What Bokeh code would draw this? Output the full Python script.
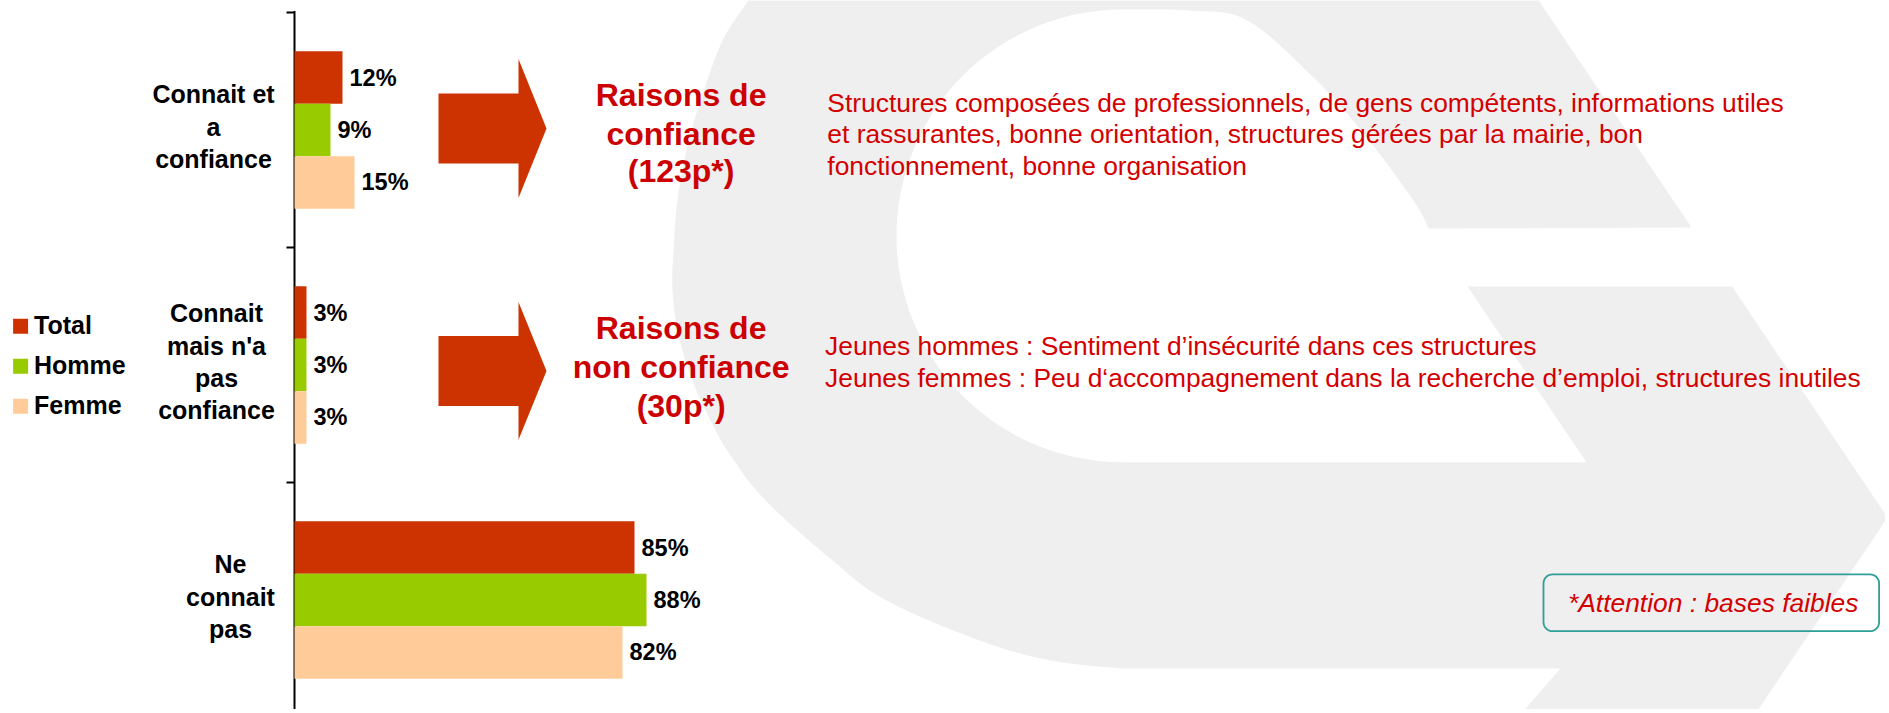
import numpy as np
from bokeh.plotting import figure
from bokeh.models import Range1d, ColumnDataSource
from bokeh.core.properties import value
from bokeh.embed import file_html
from bokeh.resources import INLINE

# ---------------- data ----------------
categories = ["Connait et\na\nconfiance",
              "Connait\nmais n'a\npas\nconfiance",
              "Ne\nconnait\npas"]
series = ["Total", "Homme", "Femme"]
total = [12, 3, 85]
homme = [9, 3, 88]
femme = [15, 3, 82]
colors = ["#cc3300", "#99cc00", "#ffcc99"]

reason_titles = ["Raisons de\nconfiance\n(123p*)",
                 "Raisons de\nnon confiance\n(30p*)"]
reason_texts = [
    "Structures composées de professionnels, de gens compétents, informations utiles\n"
    "et rassurantes, bonne orientation, structures gérées par la mairie, bon\n"
    "fonctionnement, bonne organisation",
    "Jeunes hommes : Sentiment d\u2019insécurité dans ces structures\n"
    "Jeunes femmes : Peu d\u2018accompagnement dans la recherche d\u2019emploi, structures inutiles",
]
note = "*Attention : bases faibles"

# ---------------- layout ----------------
FONT = "Liberation Sans"
W, H = 1885, 709
OFF = 0            # page offset of the canvas
AX_X = 294         # page x of value 0
PX = 4.0           # pixels per percentage point
TOP_Y = 12         # page y of the top of the first category
CAT_PX = 235       # pixels per category band
RED = "#cc0000"
MID = 0.35         # middle of the text above the baseline, in em


def X(px):
    return (px - AX_X) / PX


def Y(py):
    return (py - TOP_Y) / CAT_PX


def smooth(pts, n=10):
    """Catmull-Rom smoothing of a decorative outline."""
    P = np.array(pts, float)
    P = np.vstack([P[0], P, P[-1]])
    out = []
    for i in range(1, len(P) - 2):
        p0, p1, p2, p3 = P[i - 1], P[i], P[i + 1], P[i + 2]
        for t in np.linspace(0, 1, n, endpoint=False):
            out.append(0.5 * (2 * p1 + (-p0 + p2) * t
                              + (2 * p0 - 5 * p1 + 4 * p2 - p3) * t * t
                              + (-p0 + 3 * p1 - 3 * p2 + p3) * t ** 3))
    out.append(P[-2])
    return [tuple(q) for q in out]


p = figure(width=W, height=H,
           x_range=Range1d(X(OFF), X(OFF + W)),
           y_range=Range1d(Y(OFF + H), Y(OFF)),
           output_backend="svg", toolbar_location=None, tools="",
           x_axis_location=None, y_axis_location=None,
           min_border=0, outline_line_color=None,
           background_fill_color="white", border_fill_color="white")
p.grid.visible = False
p.xgrid.grid_line_color = None
p.ygrid.grid_line_color = None

# ---------------- background logo ----------------
outer_arc = smooth([(748, 0), (722, 40), (700, 100), (686, 150), (677, 200),
                    (673, 250), (672, 290), (678, 335), (692, 380), (710, 420),
                    (730, 455), (765, 500), (832, 560), (886, 600), (979, 640),
                    (1050, 660), (1122, 668)])
hole_top = smooth([(1428, 228), (1413, 200), (1363, 133), (1313, 77), (1247, 20),
                   (1190, 10), (1122, 9)])
hcx, hcy, hrx, hry = 1122, 235.35, 226, 226.35
tt = np.linspace(0, np.pi, 60)
hole_left = list(zip(hcx - hrx * np.sin(tt), hcy - hry * np.cos(tt)))
logo = ([(748, -30), (1518, -30), (1691, 227)] + hole_top + hole_left[1:] +
        [(1586, 461.7), (1467, 286), (1731.6, 286), (1887, 517), (1737, 740),
         (1497, 740), (1560, 668)] + outer_arc[::-1])
p.patch([X(a) for a, b in logo], [Y(b) for a, b in logo],
        fill_color="#efefef", line_color=None)

# ---------------- axis ----------------
n_cat = len(categories)
p.segment(x0=[0], y0=[Y(10.5)], x1=[0], y1=[Y(OFF + H + 10)],
          line_color="black", line_width=2)
ticks = list(range(n_cat + 1))
p.segment(x0=[-2] * len(ticks), y0=ticks, x1=[0] * len(ticks), y1=ticks,
          line_color="black", line_width=2)

# ---------------- bars + value labels ----------------
bar_h = 0.2234
for j, (name, vals, col) in enumerate(zip(series, [total, homme, femme], colors)):
    ys = [i + 0.5 + (j - 1) * bar_h for i in range(n_cat)]
    src = ColumnDataSource(dict(y=ys, right=vals,
                                label=[f"{v}%" for v in vals],
                                lx=[v + 7 / PX for v in vals]))
    p.hbar(y="y", left=0, right="right", height=bar_h, source=src,
           fill_color=col, line_color=None)
    p.text(x="lx", y="y", text="label", source=src,
           text_font=value(FONT), text_font_style="bold", text_font_size="23.5px",
           text_baseline="middle", text_align="left", text_color="black")

# ---------------- category labels ----------------
label_cx = [213, 216, 230]
lx, ly, lt = [], [], []
for i, cat in enumerate(categories):
    lines = cat.split("\n")
    n = len(lines)
    cy = TOP_Y + CAT_PX * (i + 0.5)
    for k, line in enumerate(lines):
        lx.append(X(label_cx[i]))
        ly.append(Y(cy + (k - (n - 1) / 2) * 32.4 + 5.5 - MID * 25))
        lt.append(line)
p.text(x=lx, y=ly, text=lt, text_font=value(FONT), text_font_style="bold",
       text_font_size="25px", text_align="center", text_baseline="middle",
       text_color="black")

# ---------------- legend ----------------
leg_y = [325.8, 365.8, 405.8]
p.scatter(x=[X(20.1)] * 3, y=[Y(v) for v in leg_y], marker="square", size=15,
          fill_color=colors, line_color=None)
p.text(x=[X(33.5)] * 3, y=[Y(v + 7.5 - MID * 25) for v in leg_y], text=series,
       text_font=value(FONT), text_font_style="bold", text_font_size="25px",
       text_align="left", text_baseline="middle", text_color="black")

# ---------------- arrows ----------------
for cy, hh in [(128, 69.5), (370.4, 68.8)]:
    pts = [(438, cy - 35), (518, cy - 35), (518, cy - hh), (546, cy),
           (518, cy + hh), (518, cy + 35), (438, cy + 35)]
    p.patch([X(a) for a, b in pts], [Y(b) for a, b in pts],
            fill_color="#cc3300", line_color=None)

# ---------------- reason titles ----------------
title_base = [[105.5, 144.5, 181.5], [339, 378, 416.5]]
tx, ty, tt_ = [], [], []
for title, bases in zip(reason_titles, title_base):
    for line, b in zip(title.split("\n"), bases):
        tx.append(X(680.6))
        ty.append(Y(b - MID * 32))
        tt_.append(line)
p.text(x=tx, y=ty, text=tt_, text_font=value(FONT), text_font_style="bold",
       text_font_size="32px", text_align="center", text_baseline="middle",
       text_color=RED)

# ---------------- reason texts ----------------
rx, ry, rt = [], [], []
for txt, x0, b0 in zip(reason_texts, [826.8, 824.6], [111.4, 354.7]):
    for k, line in enumerate(txt.split("\n")):
        rx.append(X(x0))
        ry.append(Y(b0 + k * 31.8 - MID * 26.4))
        rt.append(line)
p.text(x=rx, y=ry, text=rt, text_font=value(FONT), text_font_size="26.4px",
       text_align="left", text_baseline="middle", text_color="#d40000")

# ---------------- note box ----------------
bx0, bx1, by0, by1, r = 1543, 1878.6, 573.9, 630.7, 9
corners = [(bx1 - r, by0 + r, -90, 0), (bx1 - r, by1 - r, 0, 90),
           (bx0 + r, by1 - r, 90, 180), (bx0 + r, by0 + r, 180, 270)]
bpx, bpy = [], []
for cx, cy, a0, a1 in corners:
    t = np.radians(np.linspace(a0, a1, 10))
    bpx += list(cx + r * np.cos(t))
    bpy += list(cy + r * np.sin(t))
bpx.append(bpx[0])
bpy.append(bpy[0])
p.line([X(a) for a in bpx], [Y(b) for b in bpy], line_color="#2f9f97", line_width=1.8)
p.text(x=[X(1712.7)], y=[Y(611.6 - MID * 26.4)], text=[note], text_font=value(FONT),
       text_font_style="italic", text_font_size="26.4px", text_align="center",
       text_baseline="middle", text_color="#d40000")

open("out.html", "w").write(file_html(p, INLINE))
